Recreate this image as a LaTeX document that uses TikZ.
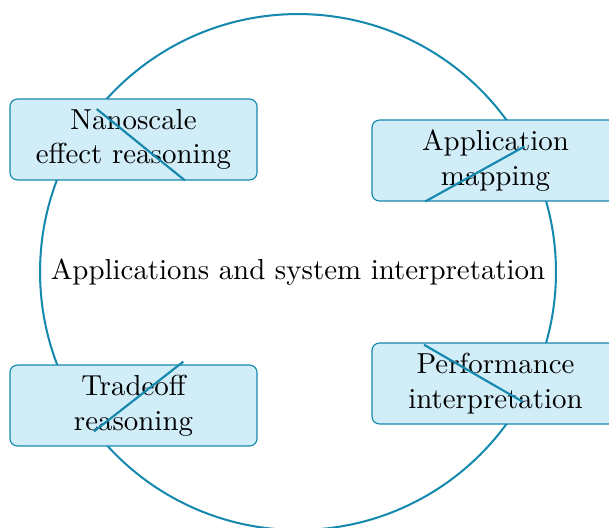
\documentclass[tikz,border=0pt]{standalone}
\usetikzlibrary{calc}
\definecolor{ringblue}{RGB}{22,137,175}
\definecolor{boxfill}{RGB}{209,237,248}
\begin{document}
\begin{tikzpicture}[x=0.346pt,y=-0.346pt,
  hub/.style={circle,draw=ringblue,line width=0.7pt,minimum size=178.5pt,inner sep=0pt,align=center},
  topic/.style={rectangle,rounded corners=2.6pt,draw=ringblue,line width=0.4pt,fill=boxfill,
    minimum width=85.5pt,minimum height=28pt,align=center,inner sep=2pt},
  spoke/.style={draw=ringblue,line width=0.75pt}]
  \useasboundingbox (0,0) rectangle (609,527);
  % central ring with its title
  \node[hub] (hub) at (298,272) {Applications and system interpretation};
  % topic boxes around the ring
  \node[topic] (nano) at (133.5,139.5) {Nanoscale\\effect reasoning};
  \node[topic] (appl) at (495.5,160.5) {Application\\mapping};
  \node[topic] (trade) at (133.5,405.5) {Tradeoff\\reasoning};
  \node[topic] (perf) at (495.5,383.5) {Performance\\interpretation};
  % short spokes from the ring inwards, passing over each box
  \coordinate (nanoIn)  at ($(hub.center)!0.562!(hub.141.1)$);
  \coordinate (applIn)  at ($(hub.center)!0.562!(hub.29.4)$);
  \coordinate (tradeIn) at ($(hub.center)!0.562!(hub.218.9)$);
  \coordinate (perfIn)  at ($(hub.center)!0.562!(hub.330.6)$);
  \draw[spoke] (hub.141.1) -- (nanoIn);
  \draw[spoke] (hub.29.4) -- (applIn);
  \draw[spoke] (hub.218.9) -- (tradeIn);
  \draw[spoke] (hub.330.6) -- (perfIn);
\end{tikzpicture}
\end{document}
